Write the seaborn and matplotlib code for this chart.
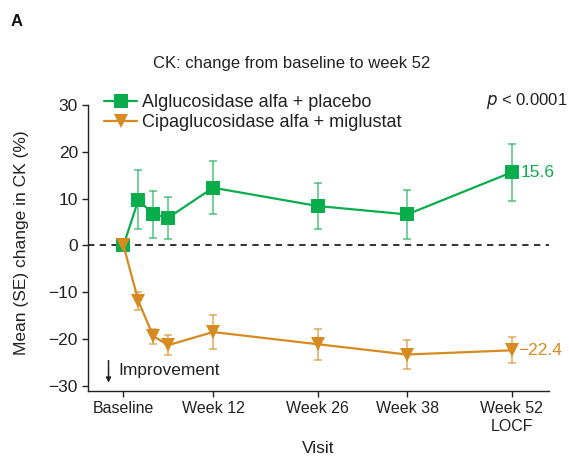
import numpy as np
import pandas as pd
import matplotlib
matplotlib.use("Agg")
import matplotlib.pyplot as plt
import matplotlib.transforms as mtransforms
import seaborn as sns

# Visit weeks and tick labels
weeks = [0, 2, 4, 6, 12, 26, 38, 52]
tick_weeks = [0, 12, 26, 38, 52]
tick_labels = ["Baseline", "Week 12", "Week 26", "Week 38", "Week 52\nLOCF"]

# Mean % change in CK and standard errors
algluco_mean = [0.0, 9.7, 6.6, 5.9, 12.3, 8.4, 6.6, 15.6]
algluco_se = [0.0, 6.3, 5.0, 4.5, 5.6, 5.0, 5.3, 6.1]
cipaglu_mean = [0.0, -11.9, -19.4, -21.3, -18.5, -21.1, -23.3, -22.4]
cipaglu_se = [0.0, 1.95, 1.65, 2.15, 3.7, 3.3, 3.0, 2.8]

name_a = "Alglucosidase alfa + placebo"
name_c = "Cipaglucosidase alfa + miglustat"
green = "#0aad4c"
orange = "#d68a20"
ink = "#222222"

df = pd.concat([
    pd.DataFrame({"week": weeks, "mean": algluco_mean, "se": algluco_se, "group": name_a}),
    pd.DataFrame({"week": weeks, "mean": cipaglu_mean, "se": cipaglu_se, "group": name_c}),
])

sns.set_theme(style="ticks")
plt.rcParams["font.family"] = ["Liberation Sans", "DejaVu Sans"]

fig = plt.figure(figsize=(5.69, 4.61), dpi=100)
ax = fig.add_axes([0.154, 0.152, 0.811, 0.642])

# zero reference line
ax.axhline(0, color=ink, lw=1.3, ls=(0, (3.5, 3.0)), zorder=1)

# error bars (lighter tone)
for g, col in [(name_a, green), (name_c, orange)]:
    sub = df[df["group"] == g]
    ax.errorbar(sub["week"], sub["mean"], yerr=sub["se"], fmt="none",
                ecolor=col, alpha=0.6, elinewidth=1.3, capsize=3.2,
                capthick=1.3, zorder=2)

sns.lineplot(data=df, x="week", y="mean", hue="group", style="group",
             palette={name_a: green, name_c: orange},
             markers={name_a: "s", name_c: "v"}, dashes=False,
             markersize=9.5, markeredgewidth=0, linewidth=1.6,
             ax=ax, zorder=3)

ax.set_xlim(-4.8, 57)
ax.set_ylim(-31.07, 32.1)
ax.set_xticks(tick_weeks)
ax.set_xticklabels(tick_labels, linespacing=1.3)
ax.set_yticks([30, 20, 10, 0, -10, -20, -30])
ax.set_yticklabels(["30", "20", "10", "0", "\u221210", "\u221220", "\u221230"])
ax.tick_params(axis="both", labelsize=11.5, length=4, width=1.0, color=ink,
               labelcolor=ink, pad=3)
ax.tick_params(axis="y", labelsize=12.5)
for s in ["top", "right"]:
    ax.spines[s].set_visible(False)
for s in ["left", "bottom"]:
    ax.spines[s].set_linewidth(1.0)
    ax.spines[s].set_color(ink)
ax.spines["left"].set_bounds(-31.07, 30)

ax.set_xlabel("Visit", fontsize=12.5, color=ink, labelpad=5)
ax.set_ylabel("Mean (SE) change in CK (%)", fontsize=12.5, color=ink, labelpad=14)

leg = ax.legend(loc="upper left", bbox_to_anchor=(0.02, 1.026), frameon=False,
                fontsize=13, handlelength=1.85, handletextpad=0.25,
                labelspacing=0.15, borderaxespad=0)
for t in leg.get_texts():
    t.set_color(ink)

# end-point value labels
ax.text(53.2, algluco_mean[-1], f"{algluco_mean[-1]:.1f}", color=green,
        fontsize=12.5, va="center", ha="left")
ax.text(52.9, cipaglu_mean[-1], f"\u2212{abs(cipaglu_mean[-1]):.1f}", color=orange,
        fontsize=12.5, va="center", ha="left")

trans = mtransforms.blended_transform_factory(fig.transFigure, ax.transData)
ax.text(0.998, 30.9, r"$\it{p}$ < 0.0001", transform=trans, ha="right",
        va="center", fontsize=12, color=ink)

# direction of improvement
ax.annotate("", xy=(-2.0, -29.3), xytext=(-2.0, -24.6),
            arrowprops=dict(arrowstyle="-|>", color=ink, lw=1.1,
                            mutation_scale=7, shrinkA=0, shrinkB=0))
ax.text(-0.7, -26.8, "Improvement", fontsize=12.5, color=ink,
        va="center", ha="left")

fig.text(0.513, 0.863, "CK: change from baseline to week 52", ha="center",
         va="center", fontsize=12, color=ink)
fig.text(0.019, 0.953, "A", fontsize=12, fontweight="bold", ha="left",
         va="center", color="#111111")

fig.savefig("out.png", dpi=100)
